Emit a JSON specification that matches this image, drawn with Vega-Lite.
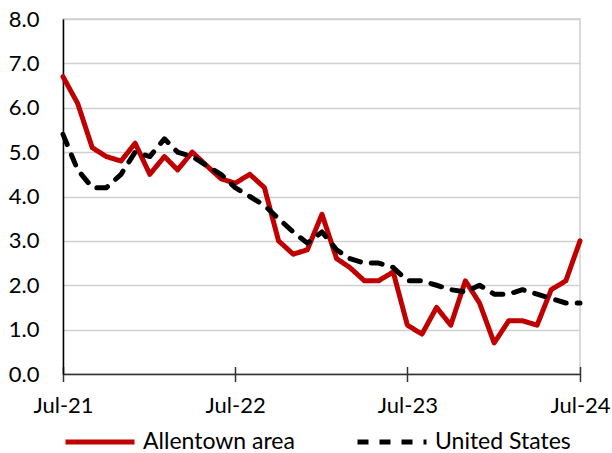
{
  "$schema": "https://vega.github.io/schema/vega-lite/v6.json",
  "width": 517,
  "height": 355,
  "autosize": "none",
  "padding": {"left": 63, "top": 19, "right": 32, "bottom": 79},
  "background": "white",
  "config": {
    "font": "Lato",
    "view": {"stroke": "#d0d0d0", "strokeWidth": 1.5},
    "axis": {"labelFont": "Lato", "labelFontSize": 22, "labelColor": "#000000", "titleFont": "Lato"},
    "legend": {"labelFont": "Lato", "labelFontSize": 23, "labelColor": "#000000"}
  },
  "data": {
    "values": [
      {"date": "2021-07-01", "series": "Allentown area", "value": 6.7},
      {"date": "2021-08-01", "series": "Allentown area", "value": 6.1},
      {"date": "2021-09-01", "series": "Allentown area", "value": 5.1},
      {"date": "2021-10-01", "series": "Allentown area", "value": 4.9},
      {"date": "2021-11-01", "series": "Allentown area", "value": 4.8},
      {"date": "2021-12-01", "series": "Allentown area", "value": 5.2},
      {"date": "2022-01-01", "series": "Allentown area", "value": 4.5},
      {"date": "2022-02-01", "series": "Allentown area", "value": 4.9},
      {"date": "2022-03-01", "series": "Allentown area", "value": 4.6},
      {"date": "2022-04-01", "series": "Allentown area", "value": 5.0},
      {"date": "2022-05-01", "series": "Allentown area", "value": 4.7},
      {"date": "2022-06-01", "series": "Allentown area", "value": 4.4},
      {"date": "2022-07-01", "series": "Allentown area", "value": 4.3},
      {"date": "2022-08-01", "series": "Allentown area", "value": 4.5},
      {"date": "2022-09-01", "series": "Allentown area", "value": 4.2},
      {"date": "2022-10-01", "series": "Allentown area", "value": 3.0},
      {"date": "2022-11-01", "series": "Allentown area", "value": 2.7},
      {"date": "2022-12-01", "series": "Allentown area", "value": 2.8},
      {"date": "2023-01-01", "series": "Allentown area", "value": 3.6},
      {"date": "2023-02-01", "series": "Allentown area", "value": 2.6},
      {"date": "2023-03-01", "series": "Allentown area", "value": 2.4},
      {"date": "2023-04-01", "series": "Allentown area", "value": 2.1},
      {"date": "2023-05-01", "series": "Allentown area", "value": 2.1},
      {"date": "2023-06-01", "series": "Allentown area", "value": 2.3},
      {"date": "2023-07-01", "series": "Allentown area", "value": 1.1},
      {"date": "2023-08-01", "series": "Allentown area", "value": 0.9},
      {"date": "2023-09-01", "series": "Allentown area", "value": 1.5},
      {"date": "2023-10-01", "series": "Allentown area", "value": 1.1},
      {"date": "2023-11-01", "series": "Allentown area", "value": 2.1},
      {"date": "2023-12-01", "series": "Allentown area", "value": 1.6},
      {"date": "2024-01-01", "series": "Allentown area", "value": 0.7},
      {"date": "2024-02-01", "series": "Allentown area", "value": 1.2},
      {"date": "2024-03-01", "series": "Allentown area", "value": 1.2},
      {"date": "2024-04-01", "series": "Allentown area", "value": 1.1},
      {"date": "2024-05-01", "series": "Allentown area", "value": 1.9},
      {"date": "2024-06-01", "series": "Allentown area", "value": 2.1},
      {"date": "2024-07-01", "series": "Allentown area", "value": 3.0},
      {"date": "2021-07-01", "series": "United States", "value": 5.4},
      {"date": "2021-08-01", "series": "United States", "value": 4.6},
      {"date": "2021-09-01", "series": "United States", "value": 4.2},
      {"date": "2021-10-01", "series": "United States", "value": 4.2},
      {"date": "2021-11-01", "series": "United States", "value": 4.5},
      {"date": "2021-12-01", "series": "United States", "value": 5.0},
      {"date": "2022-01-01", "series": "United States", "value": 4.9},
      {"date": "2022-02-01", "series": "United States", "value": 5.3},
      {"date": "2022-03-01", "series": "United States", "value": 5.0},
      {"date": "2022-04-01", "series": "United States", "value": 4.9},
      {"date": "2022-05-01", "series": "United States", "value": 4.7},
      {"date": "2022-06-01", "series": "United States", "value": 4.5},
      {"date": "2022-07-01", "series": "United States", "value": 4.2},
      {"date": "2022-08-01", "series": "United States", "value": 4.0},
      {"date": "2022-09-01", "series": "United States", "value": 3.8},
      {"date": "2022-10-01", "series": "United States", "value": 3.5},
      {"date": "2022-11-01", "series": "United States", "value": 3.2},
      {"date": "2022-12-01", "series": "United States", "value": 2.95},
      {"date": "2023-01-01", "series": "United States", "value": 3.2},
      {"date": "2023-02-01", "series": "United States", "value": 2.8},
      {"date": "2023-03-01", "series": "United States", "value": 2.6},
      {"date": "2023-04-01", "series": "United States", "value": 2.5},
      {"date": "2023-05-01", "series": "United States", "value": 2.5},
      {"date": "2023-06-01", "series": "United States", "value": 2.4},
      {"date": "2023-07-01", "series": "United States", "value": 2.1},
      {"date": "2023-08-01", "series": "United States", "value": 2.1},
      {"date": "2023-09-01", "series": "United States", "value": 2.0},
      {"date": "2023-10-01", "series": "United States", "value": 1.9},
      {"date": "2023-11-01", "series": "United States", "value": 1.85},
      {"date": "2023-12-01", "series": "United States", "value": 2.0},
      {"date": "2024-01-01", "series": "United States", "value": 1.8},
      {"date": "2024-02-01", "series": "United States", "value": 1.8},
      {"date": "2024-03-01", "series": "United States", "value": 1.9},
      {"date": "2024-04-01", "series": "United States", "value": 1.8},
      {"date": "2024-05-01", "series": "United States", "value": 1.7},
      {"date": "2024-06-01", "series": "United States", "value": 1.6},
      {"date": "2024-07-01", "series": "United States", "value": 1.6}
    ]
  },
  "resolve": {"axis": {"x": "independent"}},
  "layer": [
    {
      "mark": {"type": "line", "strokeOpacity": 0},
      "encoding": {
        "x": {
          "field": "date",
          "type": "temporal",
          "scale": {"type": "utc", "domain": [{"year": 2021, "month": 7, "date": 1, "utc": true}, {"year": 2024, "month": 7, "date": 1, "utc": true}]},
          "axis": {
            "orient": "bottom",
            "title": null,
            "values": [
              {"year": 2021, "month": 7, "date": 1, "utc": true},
              {"year": 2022, "month": 7, "date": 1, "utc": true},
              {"year": 2023, "month": 7, "date": 1, "utc": true},
              {"year": 2024, "month": 7, "date": 1, "utc": true}
            ],
            "offset": -7.5,
            "labels": false,
            "domain": false,
            "grid": false,
            "tickColor": "#333333",
            "tickWidth": 1.5,
            "tickSize": 15
          }
        },
        "y": {"field": "value", "type": "quantitative"},
        "detail": {"field": "series", "type": "nominal"}
      }
    },
    {
      "mark": {"type": "line", "strokeWidth": 5, "strokeCap": "round", "strokeJoin": "round"},
      "encoding": {
        "x": {
          "field": "date",
          "type": "temporal",
          "axis": {
            "orient": "bottom",
            "title": null,
            "values": [
              {"year": 2021, "month": 7, "date": 1, "utc": true},
              {"year": 2022, "month": 7, "date": 1, "utc": true},
              {"year": 2023, "month": 7, "date": 1, "utc": true},
              {"year": 2024, "month": 7, "date": 1, "utc": true}
            ],
            "labelExpr": "utcFormat(datum.value, '%b-%y')",
            "grid": false,
            "domainColor": "#333333",
            "domainWidth": 1.5,
            "ticks": false,
            "labelPadding": 21.5,
            "labelAngle": 0,
            "labelAlign": "center",
            "labelOverlap": false,
            "labelFlush": false
          }
        },
        "y": {
          "field": "value",
          "type": "quantitative",
          "scale": {"domain": [0, 8], "nice": false, "zero": true},
          "axis": {
            "title": null,
            "values": [0, 1, 2, 3, 4, 5, 6, 7, 8],
            "format": ".1f",
            "ticks": false,
            "labelPadding": 24,
            "domainColor": "#000000",
            "domainWidth": 1.5,
            "gridColor": "#d0d0d0",
            "gridWidth": 1.5,
            "labelFlush": false
          }
        },
        "color": {
          "field": "series",
          "type": "nominal",
          "scale": {"domain": ["Allentown area", "United States"], "range": ["#C00000", "#000000"]},
          "legend": {
            "title": null,
            "orient": "none",
            "direction": "horizontal",
            "legendX": 0,
            "legendY": 386,
            "symbolType": "stroke",
            "symbolSize": 4761,
            "symbolStrokeWidth": 5,
            "labelOffset": 6,
            "columnPadding": 52,
            "padding": 0,
            "encoding": {"symbols": {"update": {"strokeCap": {"value": "round"}}}}
          }
        },
        "strokeDash": {
          "field": "series",
          "type": "nominal",
          "scale": {"domain": ["Allentown area", "United States"], "range": [[1, 0], [11, 11]]},
          "legend": {
            "title": null,
            "orient": "none",
            "direction": "horizontal",
            "legendX": 0,
            "legendY": 386,
            "symbolType": "stroke",
            "symbolSize": 4761,
            "symbolStrokeWidth": 5,
            "labelOffset": 6,
            "columnPadding": 52,
            "padding": 0,
            "encoding": {"symbols": {"update": {"strokeCap": {"value": "round"}}}}
          }
        }
      }
    }
  ]
}
